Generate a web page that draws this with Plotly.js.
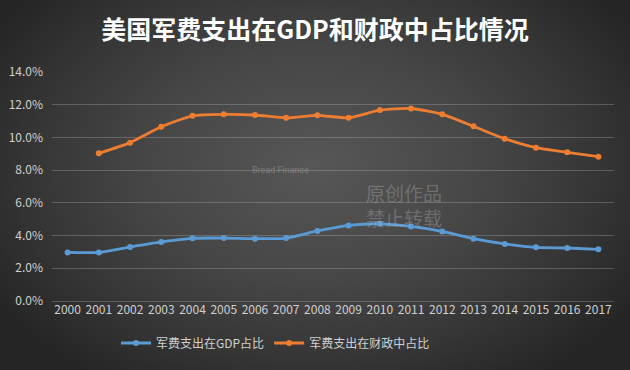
<!DOCTYPE html>
<html>
<head>
<meta charset="utf-8">
<script src="https://cdn.plot.ly/plotly-3.0.1.min.js"></script>
<style>
html,body{margin:0;padding:0;width:630px;height:370px;overflow:hidden;}
body{background:radial-gradient(ellipse 60% 70% at 50% 45%, #575757 0%, #464646 45%, #353535 75%, #252525 100%);}
#chart{width:630px;height:370px;}
</style>
</head>
<body>
<div id="chart"></div>
<script>
const years = ['2000','2001','2002','2003','2004','2005','2006','2007','2008','2009','2010','2011','2012','2013','2014','2015','2016','2017'];
const gdpShare = [2.97,2.97,3.30,3.61,3.83,3.85,3.81,3.85,4.28,4.62,4.72,4.56,4.25,3.81,3.49,3.28,3.24,3.16];
const fiscalShare = [null,9.03,9.68,10.65,11.32,11.41,11.37,11.20,11.35,11.20,11.67,11.77,11.41,10.68,9.92,9.37,9.09,8.82];
const seriesNames = ['军费支出在GDP占比','军费支出在财政中占比'];
const yTicks = [0,2,4,6,8,10,12,14];
const yTickText = ['0.0%','2.0%','4.0%','6.0%','8.0%','10.0%','12.0%','14.0%'];
const titleText = '美国军费支出在GDP和财政中占比情况';

const font = '"Noto Sans CJK SC", "Liberation Serif", serif';
const traces = [
  {x: years, y: gdpShare, name: seriesNames[0], type: 'scatter', mode: 'lines+markers',
   line: {color: '#5b9bd5', width: 2.8, shape: 'spline', smoothing: 0.6},
   marker: {color: '#5b9bd5', size: 6}},
  {x: years, y: fiscalShare, name: seriesNames[1], type: 'scatter', mode: 'lines+markers',
   line: {color: '#ed7d31', width: 2.8, shape: 'spline', smoothing: 0.6},
   marker: {color: '#ed7d31', size: 6}}
];
const layout = {
  width: 630, height: 370,
  paper_bgcolor: 'rgba(0,0,0,0)', plot_bgcolor: 'rgba(0,0,0,0)',
  margin: {l: 52, r: 16, t: 72, b: 69},
  title: {text: '<b>' + titleText + '</b>', x: 0.5, xanchor: 'center', y: 1 - 30/370, yanchor: 'middle',
          font: {family: font, size: 25, color: '#ffffff'}},
  xaxis: {type: 'category', range: [-0.5, 17.5], showgrid: false, zeroline: false, showline: false,
          ticks: '', tickfont: {family: font, size: 12, color: '#d0d0d0'}, fixedrange: true},
  yaxis: {range: [0, 14], tickvals: yTicks, ticktext: yTickText, showgrid: true,
          gridcolor: 'rgba(200,200,200,0.28)', gridwidth: 1, zeroline: true,
          zerolinecolor: 'rgba(200,200,200,0.28)', zerolinewidth: 1, showline: false, ticks: '',
          tickfont: {family: font, size: 12, color: '#d0d0d0'}, ticklabelstandoff: 8},
  showlegend: true,
  legend: {orientation: 'h', xref: 'container', yref: 'container', x: 116/630, xanchor: 'left',
           y: 1 - 343/370, yanchor: 'middle', bgcolor: 'rgba(0,0,0,0)',
           font: {family: font, size: 12, color: '#d0d0d0'}, itemwidth: 30, tracegroupgap: 0},
  annotations: [
    {text: 'Bread Finance', xref: 'paper', yref: 'paper', x: 0.406, y: 0.574, showarrow: false,
     font: {family: 'Roboto, sans-serif', size: 9, color: 'rgba(200,200,200,0.35)'}},
    {text: '原创作品<br>禁止转载', xref: 'paper', yref: 'paper', x: 0.626, y: 0.42, showarrow: false,
     align: 'left', font: {family: font, size: 19, color: 'rgba(200,200,200,0.3)'}}
  ]
};
Plotly.newPlot('chart', traces, layout, {displayModeBar: false, staticPlot: true});
</script>
</body>
</html>
